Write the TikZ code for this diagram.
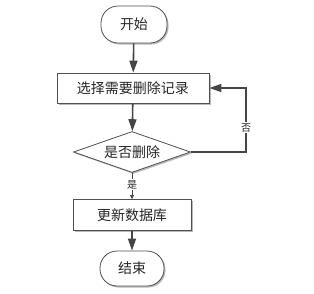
\documentclass[tikz,border=0pt]{standalone}
\usepackage{fontspec}
\newfontfamily\cjk{Noto Sans CJK SC}
\usetikzlibrary{shapes.geometric,arrows.meta,shadows}
\definecolor{edgegray}{HTML}{505050}
\definecolor{linegray}{HTML}{454545}
\tikzset{
  base/.style={draw=edgegray, line width=0.8pt, fill=white, text=black!85,
    font=\cjk\fontsize{14}{16}\selectfont, inner sep=0pt,
    drop shadow={shadow xshift=1.5pt, shadow yshift=-1.5pt, fill=gray!70, opacity=0.8}},
  terminal/.style={base, rounded corners=17pt},
  procbox/.style={base, rectangle},
  decision/.style={base, diamond, aspect=2.85},
  flow/.style={linegray, line width=1.6pt, -{Triangle[length=12pt,width=8pt]}},
  thinflow/.style={linegray, line width=0.6pt, -{Triangle[length=4pt,width=4pt]}},
  lbl/.style={font=\cjk\fontsize{10}{12}\selectfont, fill=white, inner sep=1pt, text=black!85}
}
\begin{document}
\begin{tikzpicture}[x=1pt, y=-1pt]
    \useasboundingbox (0,0) rectangle (314,293);

    \node[terminal, minimum width=66pt, minimum height=37pt] (start) at (134,24.5) {开始};
    \node[procbox, minimum width=152pt, minimum height=30pt] (select) at (133,88) {选择需要删除记录};
    \node[decision, minimum width=117pt, minimum height=41pt] (ask) at (132,152) {是否删除};
    \node[procbox, minimum width=118pt, minimum height=31pt] (update) at (132,215) {更新数据库};
    \node[terminal, minimum width=64pt, minimum height=35pt] (stop) at (132,268.5) {结束};

    \draw[flow] (start) -- (select);
    \draw[flow] (select) -- (ask);
    \draw[thinflow] (ask) -- (update) node[lbl, pos=0.45] {是};
    \draw[flow] (update) -- (stop);

    \coordinate (turn) at (246,152);
    \draw[flow] (ask.east) -- (turn) |- (select.east) node[lbl, pos=0.19] {否};
\end{tikzpicture}
\end{document}
